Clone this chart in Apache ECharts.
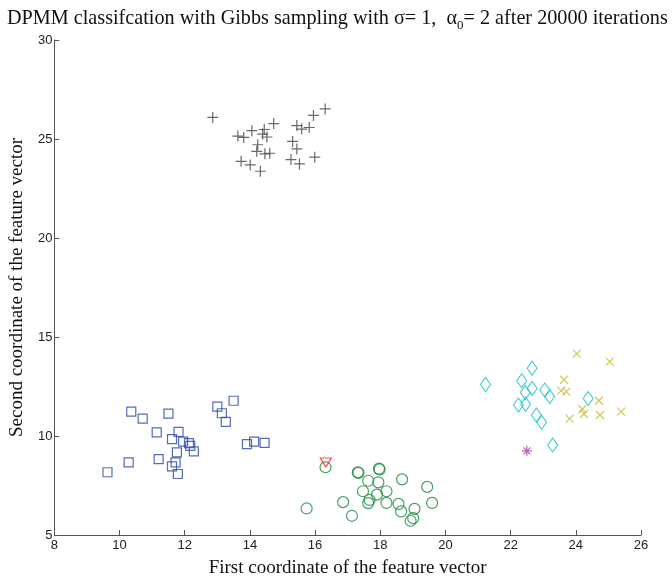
<!DOCTYPE html>
<html>
<head>
<meta charset="utf-8">
<script src="https://cdn.jsdelivr.net/npm/echarts@6/dist/echarts.min.js"></script>
<style>html,body{margin:0;padding:0;background:#fff}#c{width:672px;height:583px}</style>
</head>
<body>
<div id="c"></div>
<script>
// Cluster data: [x, y]
var grayPlus = [[12.86,26.09],[16.31,26.52],[15.95,26.19],[14.73,25.78],[15.44,25.68],[15.59,25.50],[15.82,25.58],[14.06,25.42],[14.44,25.48],[14.39,25.25],[13.63,25.15],[13.81,25.08],[14.52,25.10],[15.31,24.88],[14.24,24.71],[14.21,24.38],[14.46,24.25],[14.61,24.28],[15.44,24.50],[15.26,23.96],[15.52,23.74],[15.99,24.08],[13.73,23.87],[14.01,23.69],[14.32,23.37]];
var blueSquares = [[9.63,8.17],[10.28,8.67],[10.36,11.23],[10.71,10.88],[11.14,10.18],[11.20,8.83],[11.50,11.13],[11.61,9.84],[11.81,10.21],[11.76,9.17],[11.72,8.67],[11.61,8.47],[11.79,8.08],[11.95,9.72],[12.13,9.64],[12.17,9.50],[12.28,9.22],[13.00,11.48],[13.14,11.15],[13.26,10.71],[13.50,11.78],[13.91,9.59],[14.13,9.72],[14.45,9.65]];
var greenCircles = [[16.32,8.42],[17.31,8.17],[17.33,8.14],[17.96,8.35],[17.98,8.31],[17.63,7.74],[17.94,7.66],[18.67,7.81],[19.44,7.43],[17.47,7.21],[17.90,7.04],[18.19,7.21],[17.67,6.77],[17.63,6.61],[18.19,6.62],[16.86,6.66],[18.56,6.57],[18.64,6.19],[19.05,6.32],[19.59,6.62],[15.74,6.34],[17.13,5.97],[19.01,5.85],[18.93,5.72]];
var redTriangle = [[16.33,8.66]];
var cyanDiamonds = [[21.23,12.60],[22.66,13.42],[22.34,12.79],[22.45,12.20],[22.66,12.40],[22.24,11.56],[22.46,11.60],[23.05,12.32],[23.20,11.99],[22.79,11.06],[22.95,10.69],[24.38,11.90],[23.29,9.55]];
var yellowCrosses = [[24.03,14.16],[25.04,13.76],[23.64,12.84],[23.55,12.29],[23.71,12.24],[24.71,11.78],[24.20,11.35],[24.25,11.11],[23.81,10.88],[24.74,11.06],[25.39,11.23]];
var magentaStar = [[22.50,9.25]];
var xTicks = [8,10,12,14,16,18,20,22,24,26];
var yTicks = [5,10,15,20,25,30];

var chart = echarts.init(document.getElementById('c'), null, {renderer:'canvas'});
function s(data, symbol, size, color, extra){
  var o = {type:'scatter', data:data, symbol:symbol, symbolSize:size,
    itemStyle:{color:'none', borderColor:color, borderWidth:1.2}, silent:true};
  if(extra){for(var k in extra){o[k]=extra[k];}}
  return o;
}
chart.setOption({
  animation:false,
  backgroundColor:'#fff',
  title:{
    text:'{a|DPMM classifcation with Gibbs sampling with σ= 1,  α}{s|0}{a|= 2 after 20000 iterations}',
    left:2, top:3,
    textStyle:{fontWeight:'normal', rich:{
      a:{fontFamily:'Liberation Serif', fontSize:20.2, fontWeight:'normal', color:'#111', lineHeight:22},
      s:{fontFamily:'Liberation Serif', fontSize:13, fontWeight:'normal', color:'#111', lineHeight:22, padding:[14,0,0,0]}
    }}
  },
  grid:{left:53, right:31, top:40, bottom:45},
  xAxis:{
    type:'value', min:8, max:26, interval:2,
    name:'First coordinate of the feature vector', nameLocation:'middle', nameGap:24,
    nameTextStyle:{fontFamily:'Liberation Serif', fontSize:19, color:'#111'},
    axisLine:{onZero:false, lineStyle:{color:'#555', width:1}},
    axisTick:{inside:true, length:5, lineStyle:{color:'#555'}},
    axisLabel:{fontFamily:'Liberation Sans', fontSize:13, color:'#222', margin:4},
    splitLine:{show:false}
  },
  yAxis:{
    type:'value', min:5, max:30, interval:5,
    name:'Second coordinate of the feature vector', nameLocation:'middle', nameGap:26,
    nameTextStyle:{fontFamily:'Liberation Serif', fontSize:19, color:'#111'},
    axisLine:{show:true, onZero:false, lineStyle:{color:'#555', width:1}},
    axisTick:{show:true, inside:true, length:5, lineStyle:{color:'#555'}},
    axisLabel:{fontFamily:'Liberation Sans', fontSize:13, color:'#222', margin:2},
    splitLine:{show:false}
  },
  series:[
    s(grayPlus, 'path://M0,5L10,5M5,0L5,10', 11, '#444'),
    s(blueSquares, 'rect', 9, '#2c46a6'),
    s(greenCircles, 'circle', 11, '#178a3c'),
    s(redTriangle, 'triangle', [11,9], '#ff2020', {symbolRotate:180}),
    s(cyanDiamonds, 'diamond', [10,14], '#1cc4c8'),
    s(yellowCrosses, 'path://M0,0L10,10M10,0L0,10', 8, '#c4bc2a'),
    s(magentaStar, 'path://M5,0L5,10M0,5L10,5M1.5,1.5L8.5,8.5M8.5,1.5L1.5,8.5', 10, '#b03ca8')
  ]
});
</script>
</body>
</html>
